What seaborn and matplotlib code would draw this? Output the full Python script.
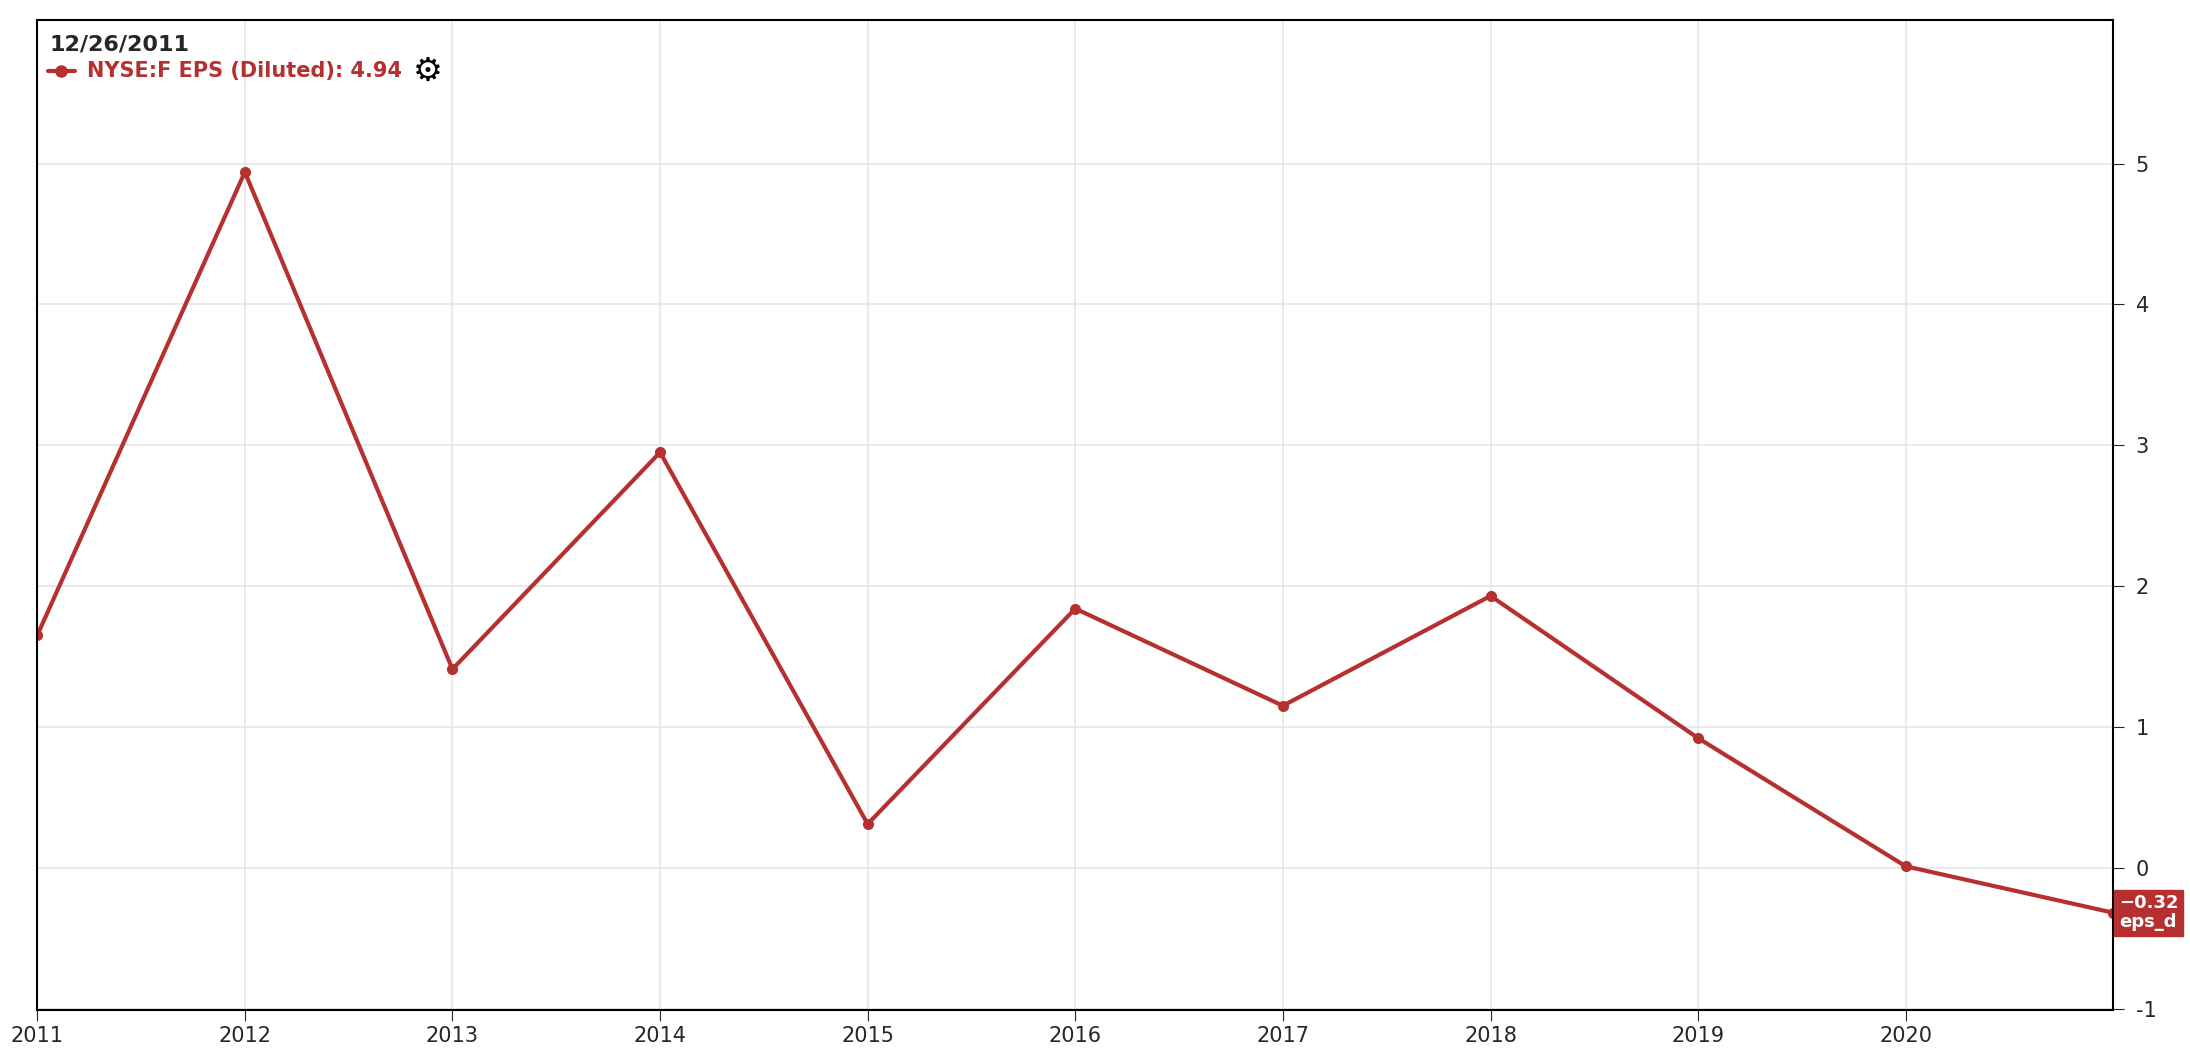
import numpy as np
import pandas as pd
import matplotlib.pyplot as plt
import seaborn as sns

years = [2011.0, 2012.0, 2013.0, 2014.0, 2015.0, 2016.0, 2017.0, 2018.0, 2019.0, 2020.0, 2021.0]
eps = [1.65, 4.94, 1.41, 2.95, 0.31, 1.84, 1.15, 1.93, 0.92, 0.01, -0.32]
tick_years = list(range(2011, 2021))
y_ticks = [-1, 0, 1, 2, 3, 4, 5]

red = '#b5302f'
df = pd.DataFrame({'year': years, 'eps': eps})

sns.set_style('white')
plt.rcParams['font.family'] = ['DejaVu Sans']

fig = plt.figure(figsize=(21.9, 10.52), dpi=100)
ax = fig.add_axes([0.017, 0.04, 0.948, 0.941])
sns.lineplot(data=df, x='year', y='eps', color=red, lw=3, marker='o',
             markersize=8, markeredgewidth=0, ax=ax)

ax.set_xlim(2011, 2021.0)
ax.set_ylim(-1.01, 6.02)
ax.set_xticks(tick_years)
ax.set_xticklabels([str(y) for y in tick_years], fontsize=15)
ax.set_yticks(y_ticks)
ax.set_yticklabels([str(v) for v in y_ticks], fontsize=15)
ax.yaxis.tick_right()
ax.tick_params(axis='y', length=8, pad=8, right=True)
ax.tick_params(axis='x', length=8, bottom=True)
ax.grid(True, color='#e6e6e6', lw=1.2)
ax.set_xlabel('')
ax.set_ylabel('')
for s in ax.spines.values():
    s.set_color('black')
    s.set_linewidth(1.5)

ax.text(0.006, 0.985, '12/26/2011', transform=ax.transAxes, fontsize=16,
        fontweight='bold', va='top', ha='left')
ax.plot([0.005, 0.018], [0.948, 0.948], transform=ax.transAxes, color=red, lw=3)
ax.plot([0.0115], [0.948], 'o', transform=ax.transAxes, color=red, ms=8)
ax.text(0.024, 0.948, 'NYSE:F EPS (Diluted): 4.94', transform=ax.transAxes,
        fontsize=15, fontweight='bold', color=red, va='center', ha='left')
ax.text(0.181, 0.948, '\u2699', transform=ax.transAxes, fontsize=24,
        color='black', va='center', ha='left')

ax.annotate('\u22120.32\neps_d', xy=(1.0, -0.32), xycoords=('axes fraction', 'data'),
            xytext=(4, 0), textcoords='offset points', ha='left', va='center',
            fontsize=13, fontweight='bold', color='white', linespacing=1.1,
            bbox=dict(boxstyle='square,pad=0.25', fc=red, ec=red))

fig.savefig('out.png', dpi=100)
